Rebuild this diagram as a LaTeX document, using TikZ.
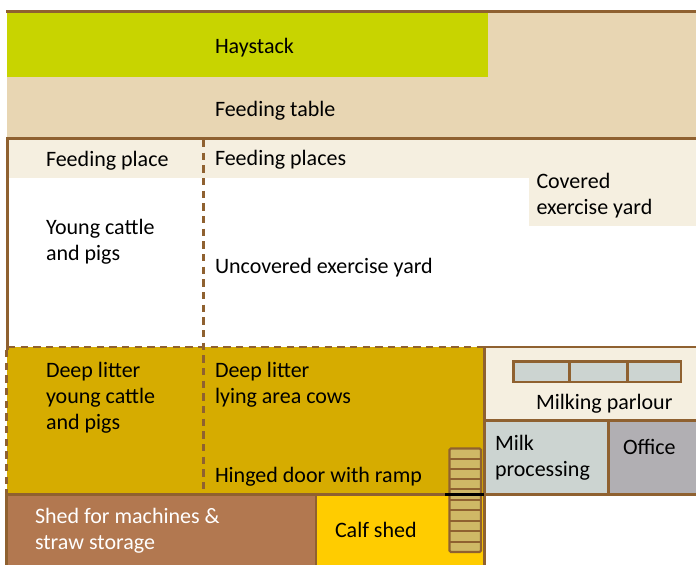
\documentclass[tikz,border=0pt]{standalone}
\usepackage{fontspec}
\setmainfont{Carlito}
\definecolor{wall}{HTML}{8F6130}
\definecolor{hay}{HTML}{C8D400}
\definecolor{tablec}{HTML}{E8D6B3}
\definecolor{lightc}{HTML}{F5EFE0}
\definecolor{litter}{HTML}{D6AC00}
\definecolor{shed}{HTML}{B27850}
\definecolor{calf}{HTML}{FFCC00}
\definecolor{greyc}{HTML}{CCD4D1}
\definecolor{office}{HTML}{B1AFB3}
\definecolor{rampc}{HTML}{CFB866}
\tikzset{
  x=0.75pt,y=-0.75pt,
  wallline/.style={draw=wall,line width=2.2pt*0.75},
  thinwall/.style={draw=wall,line width=2.2pt*0.75},
  dashwall/.style={draw=wall,line width=2.2pt*0.75,dash pattern=on 5.5pt off 4pt},
  lbl/.style={anchor=base west,inner sep=0pt,outer sep=0pt,font=\fontsize{16.5}{19.5}\selectfont,align=left,text=black},
}
\begin{document}
\begin{tikzpicture}
\useasboundingbox (0,0) rectangle (696,565);
% fills
\fill[tablec] (7,12) rectangle (696,138);
\fill[hay] (7,13) rectangle (488,77);
\fill[lightc] (8,139) rectangle (696,178);
\fill[lightc] (529,178) rectangle (696,226);
\fill[litter] (7,347) rectangle (485,494);
\fill[shed] (7,494) rectangle (316,565);
\fill[calf] (316,494) rectangle (484,565);
\fill[lightc] (485,347) rectangle (696,420);
\fill[greyc] (485,420) rectangle (608,466);
\fill[office] (608,420) rectangle (696,494);
\fill[greyc] (485,466) rectangle (608,494);
% walls
\draw[wallline] (6,11.5) -- (696,11.5);
\draw[wallline] (6,138.5) -- (696,138.5);
\draw[wallline] (7.5,138) -- (7.5,350);
\draw[dashwall] (6.5,350) -- (6.5,494);
\draw[dashwall] (203.5,140) -- (203.5,494);
\draw[dashwall] (8,347) -- (484,347);
\draw[wallline] (484.5,346) -- (484.5,565);
\draw[wallline] (484,347) -- (696,347);
\draw[wallline] (485,420.5) -- (696,420.5);
\draw[wallline] (608.5,420) -- (608.5,495);
\draw[wallline] (6,494.5) -- (484,494.5);
\draw[wallline] (485,494.5) -- (696,494.5);
\draw[wallline] (6.5,494) -- (6.5,565);
\draw[wallline] (316,494) -- (316,565);
% parlour stalls
\draw[wallline,fill=greyc] (513.5,361.5) rectangle (681,382);
\draw[wallline] (569.5,361.5) -- (569.5,382);
\draw[wallline] (627.5,361.5) -- (627.5,382);
% ramp
\draw[wallline,fill=rampc,rounded corners=1pt] (449.5,448.5) rectangle (481,552);
\foreach \r in {459,469,479,489,500,510,521,531,542}{
  \draw[wallline] (449.5,\r) -- (481,\r);
}
\draw[line width=3.6pt*0.75,black] (445,494.5) -- (484,494.5);
% labels
\node[lbl] (haystack) at (215,53) {Haystack};
\node[lbl] (feedtable) at (215,116) {Feeding table};
\node[lbl] (feedplace) at (46,166) {Feeding place};
\node[lbl] (feedplaces) at (215,165.5) {Feeding places};
\node[lbl,anchor=north west] (covered) at (536.5,173) {Covered\\exercise yard};
\node[lbl,anchor=north west] (young) at (46,219) {Young cattle\\and pigs};
\node[lbl] (uncovered) at (215,273) {Uncovered exercise yard};
\node[lbl,anchor=north west] (dlyoung) at (46,362) {Deep litter\\young cattle\\and pigs};
\node[lbl,anchor=north west] (dlcows) at (215,362) {Deep litter\\lying area cows};
\node[lbl] (hinged) at (215,482) {Hinged door with ramp};
\node[lbl] (parlour) at (536,409) {Milking parlour};
\node[lbl,anchor=north west] (milk) at (495,435) {Milk\\processing};
\node[lbl] (officel) at (623,454) {Office};
\node[lbl,anchor=north west,text=white] (shedl) at (35,508) {Shed for machines \&\\straw storage};
\node[lbl] (calfl) at (335,537) {Calf shed};
\end{tikzpicture}
\end{document}
